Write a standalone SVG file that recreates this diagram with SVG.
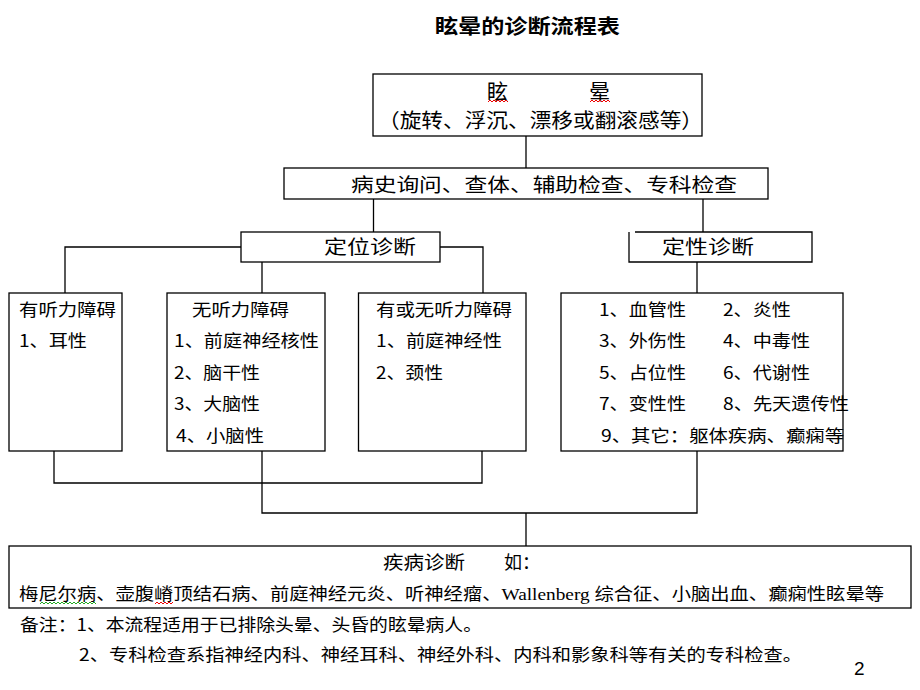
<svg xmlns="http://www.w3.org/2000/svg" width="920" height="690" viewBox="0 0 920 690">
<style>
.t{font-family:"Noto Sans CJK SC","Noto Sans",sans-serif;fill:#000}
.s17{font-size:17px}
.s18{font-size:18px}
.s19{font-size:19px}
.s20{font-size:20px}
.s21{font-size:21px}
.b{fill:#fff;stroke:#000;stroke-width:1.3}
.c{fill:none;stroke:#000;stroke-width:1.3}
.sq{fill:none;stroke-width:1}
</style>
<rect x="0" y="0" width="920" height="690" fill="#fff"/>
<text class="t s20" x="435" y="34" font-weight="bold" textLength="185" lengthAdjust="spacingAndGlyphs">眩晕的诊断流程表</text>

<g id="connectors">
<path class="c" d="M526,136 V168"/>
<path class="c" d="M373.5,199 V232"/>
<path class="c" d="M703,199 V232"/>
<path class="c" d="M241,247 H65 V293"/>
<path class="c" d="M440,247 H483 V293"/>
<path class="c" d="M262,262 V293"/>
<path class="c" d="M697,262 V293"/>
<path class="c" d="M54,451 V483 H482 V451"/>
<path class="c" d="M262,451 V513 H697 V451"/>
<path class="c" d="M526,513 V546"/>
</g>

<g id="vertigo">
<rect class="b" x="373" y="74" width="329" height="62"/>
<text class="t s21" x="487" y="98.5">眩</text>
<text class="t s21" x="589" y="98.5">晕</text>
<polyline class="sq" stroke="#e00" points="488,102 490,100 492,102 494,100 496,102 498,100 500,102 502,100 504,102 506,100 508,102"/>
<polyline class="sq" stroke="#e00" points="590,102 592,100 594,102 596,100 598,102 600,100 602,102 604,100 606,102 608,100 610,102"/>
<text class="t s20" x="378" y="128" textLength="325" lengthAdjust="spacingAndGlyphs">（旋转、浮沉、漂移或翻滚感等）</text>
</g>

<g id="history">
<rect class="b" x="284" y="168" width="484" height="31"/>
<text class="t s19" x="351" y="192" textLength="386" lengthAdjust="spacingAndGlyphs">病史询问、查体、辅助检查、专科检查</text>
</g>

<g id="localize">
<rect class="b" x="241" y="232" width="199" height="30"/>
<text class="t s19" x="324" y="254" textLength="92" lengthAdjust="spacingAndGlyphs">定位诊断</text>
</g>

<g id="qualitative">
<path class="b" d="M635,232 H812 V262 H629 V232"/>
<text class="t s19" x="662" y="254" textLength="92" lengthAdjust="spacingAndGlyphs">定性诊断</text>
</g>

<g id="hearing">
<rect class="b" x="9" y="293" width="113" height="158"/>
<text class="t s17" x="19" y="316" textLength="97" lengthAdjust="spacingAndGlyphs">有听力障碍</text>
<text class="t s17" x="19" y="347" textLength="68" lengthAdjust="spacingAndGlyphs">1、耳性</text>
</g>

<g id="nohearing">
<rect class="b" x="167" y="293" width="158" height="158"/>
<text class="t s17" x="192" y="316" textLength="97" lengthAdjust="spacingAndGlyphs">无听力障碍</text>
<text class="t s17" x="174" y="347" textLength="145" lengthAdjust="spacingAndGlyphs">1、前庭神经核性</text>
<text class="t s17" x="174" y="379" textLength="86" lengthAdjust="spacingAndGlyphs">2、脑干性</text>
<text class="t s17" x="174" y="410" textLength="86" lengthAdjust="spacingAndGlyphs">3、大脑性</text>
<text class="t s17" x="176" y="442" textLength="88" lengthAdjust="spacingAndGlyphs">4、小脑性</text>
</g>

<g id="either">
<rect class="b" x="358.5" y="293" width="167.5" height="158"/>
<text class="t s17" x="376" y="316" textLength="136" lengthAdjust="spacingAndGlyphs">有或无听力障碍</text>
<text class="t s17" x="376" y="347" textLength="126" lengthAdjust="spacingAndGlyphs">1、前庭神经性</text>
<text class="t s17" x="376" y="379" textLength="67" lengthAdjust="spacingAndGlyphs">2、颈性</text>
</g>

<g id="causes">
<rect class="b" x="561" y="293" width="282" height="158"/>
<text class="t s17" x="599" y="316" textLength="87" lengthAdjust="spacingAndGlyphs">1、血管性</text>
<text class="t s17" x="723" y="316" textLength="68" lengthAdjust="spacingAndGlyphs">2、炎性</text>
<text class="t s17" x="599" y="347" textLength="87" lengthAdjust="spacingAndGlyphs">3、外伤性</text>
<text class="t s17" x="723" y="347" textLength="87" lengthAdjust="spacingAndGlyphs">4、中毒性</text>
<text class="t s17" x="599" y="379" textLength="87" lengthAdjust="spacingAndGlyphs">5、占位性</text>
<text class="t s17" x="723" y="379" textLength="87" lengthAdjust="spacingAndGlyphs">6、代谢性</text>
<text class="t s17" x="599" y="410" textLength="87" lengthAdjust="spacingAndGlyphs">7、变性性</text>
<text class="t s17" x="723" y="410" textLength="126" lengthAdjust="spacingAndGlyphs">8、先天遗传性</text>
<text class="t s17" x="601" y="442" textLength="243" lengthAdjust="spacingAndGlyphs">9、其它：躯体疾病、癫痫等</text>
</g>

<g id="disease">
<rect class="b" x="9" y="546" width="902" height="62"/>
<text class="t s18" x="383" y="569" textLength="82" lengthAdjust="spacingAndGlyphs">疾病诊断</text>
<text class="t s18" x="504" y="569">如：</text>
<text class="t s17" x="19" y="600" textLength="865" lengthAdjust="spacingAndGlyphs">梅尼尔病、壶腹嵴顶结石病、前庭神经元炎、听神经瘤、<tspan font-family="Liberation Serif, serif">Wallenberg </tspan>综合征、小脑出血、癫痫性眩晕等</text>
<polyline class="sq" stroke="#2a2" points="40,604 42,602 44,604 46,602 48,604 50,602 52,604 54,602 56,604 58,602 60,604 62,602 64,604 66,602 68,604 70,602 72,604 74,602 76,604 78,602 80,604 82,602 84,604 86,602 88,604 90,602 92,604 94,602 96,604"/>
<polyline class="sq" stroke="#e00" points="155,604 157,602 159,604 161,602 163,604 165,602 167,604 169,602 171,604 173,602"/>
</g>

<g id="notes">
<text class="t s17" x="20" y="631" textLength="462" lengthAdjust="spacingAndGlyphs">备注：1、本流程适用于已排除头晕、头昏的眩晕病人。</text>
<text class="t s17" x="79" y="661" textLength="723" lengthAdjust="spacingAndGlyphs">2、专科检查系指神经内科、神经耳科、神经外科、内科和影象科等有关的专科检查。</text>
<text x="854" y="675" font-family="Liberation Sans, sans-serif" font-size="19">2</text>
</g>
</svg>
